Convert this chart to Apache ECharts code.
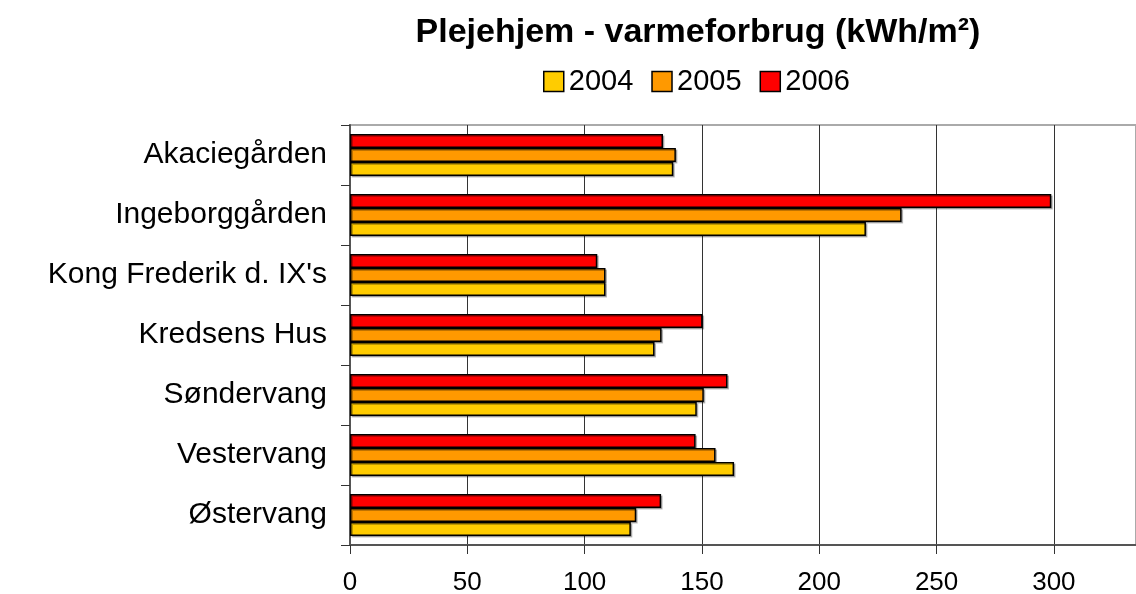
<!DOCTYPE html>
<html>
<head>
<meta charset="utf-8">
<script src="https://cdn.jsdelivr.net/npm/echarts@6/dist/echarts.min.js"></script>
<style>
  html, body { margin: 0; padding: 0; background: #fff; }
  #chart { width: 1136px; height: 594px; }
</style>
</head>
<body>
<div id="chart"></div>
<script>
const categories = ['Akaciegården', 'Ingeborggården', "Kong Frederik d. IX's", 'Kredsens Hus', 'Søndervang', 'Vestervang', 'Østervang']
const values2004 = [137.8, 219.9, 108.9, 129.8, 147.8, 163.7, 119.7]
const values2005 = [138.9, 235.1, 108.9, 132.8, 150.8, 155.8, 122.0]
const values2006 = [133.4, 298.9, 105.4, 150.3, 160.9, 147.3, 132.6]
const xTicks = [0, 50, 100, 150, 200, 250, 300]

const font = 'Liberation Sans, Arial, sans-serif'

function barSeries(name, data, color) {
  return {
    name: name,
    type: 'bar',
    data: data,
    barWidth: 14,
    barGap: '0%',
    animation: false,
    itemStyle: {
      color: color,
      borderColor: '#000',
      borderWidth: 1.5,
      shadowColor: 'rgba(0,0,0,0.25)',
      shadowOffsetX: 1.5,
      shadowOffsetY: 1.5
    }
  }
}

const myChart = echarts.init(document.getElementById('chart'))
myChart.setOption({
  backgroundColor: '#fff',
  title: {
    text: 'Plejehjem - varmeforbrug (kWh/m²)',
    left: 693,
    textAlign: 'center',
    top: 11,
    textStyle: { fontFamily: font, fontSize: 34, fontWeight: 'bold', color: '#000' }
  },
  legend: {
    data: ['2004', '2005', '2006'],
    left: 538,
    top: 62,
    icon: 'rect',
    itemWidth: 20,
    itemHeight: 20,
    itemGap: 18,
    itemStyle: { borderColor: '#000', borderWidth: 1.5 },
    textStyle: { fontFamily: font, fontSize: 29, color: '#000' }
  },
  grid: {
    left: 350,
    right: 0,
    top: 125,
    bottom: 49,
    outerBoundsMode: 'none',
    containLabel: false,
    show: true,
    borderColor: '#aaa',
    borderWidth: 2
  },
  xAxis: {
    type: 'value',
    min: 0,
    max: 335,
    interval: 50,
    axisLine: { show: true, lineStyle: { color: '#555', width: 2 } },
    axisTick: { show: true, length: 9, lineStyle: { color: '#333' } },
    axisLabel: {
      fontFamily: font, fontSize: 26, color: '#000', margin: 25,
      showMaxLabel: false,
      formatter: function (v) { return xTicks.indexOf(v) >= 0 ? String(v) : '' }
    },
    splitLine: { show: true, lineStyle: { color: '#333', width: 1 } }
  },
  yAxis: {
    type: 'category',
    data: categories,
    inverse: true,
    axisLine: { show: true, lineStyle: { color: '#555', width: 2 } },
    axisTick: { show: true, length: 9, inside: false, lineStyle: { color: '#333' } },
    axisLabel: { fontFamily: font, fontSize: 30, color: '#000', margin: 23 },
    splitLine: { show: false }
  },
  series: [
    barSeries('2006', values2006, '#ff0000'),
    barSeries('2005', values2005, '#ff9900'),
    barSeries('2004', values2004, '#ffcc00')
  ]
})
</script>
</body>
</html>
